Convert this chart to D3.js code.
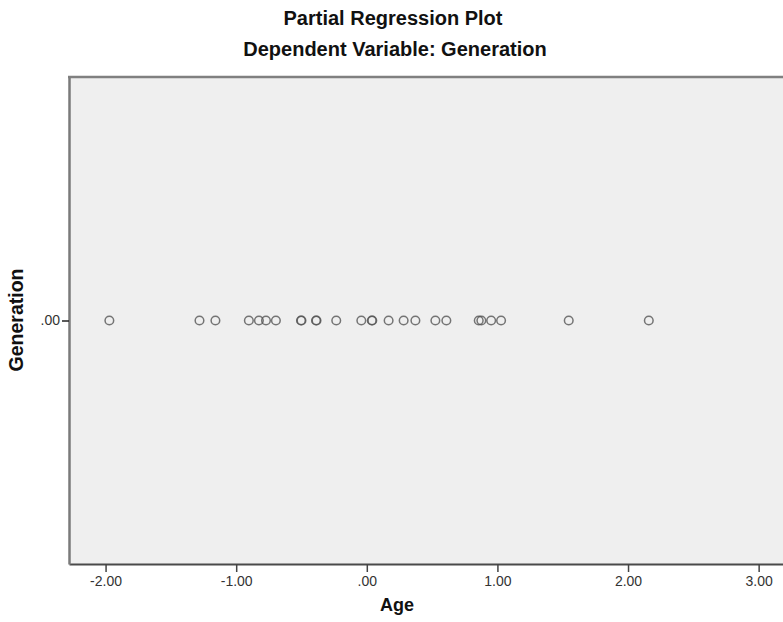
<!DOCTYPE html>
<html>
<head>
<meta charset="utf-8">
<script src="https://cdn.jsdelivr.net/npm/d3@7"></script>
<style>
  html, body { margin: 0; padding: 0; background: #fff; }
  svg { display: block; }
</style>
</head>
<body>
<svg id="chart" width="783" height="622"></svg>
<script>
const titleText = "Partial Regression Plot";
const subtitleText = "Dependent Variable: Generation";
const xLabel = "Age";
const yLabel = "Generation";
const xTicks = [-2, -1, 0, 1, 2, 3];
const yTicks = [0];
const ageValues = [-1.971, -1.281, -1.159, -0.903, -0.826, -0.772, -0.696, -0.504, -0.500,
  -0.389, -0.385, -0.234, -0.042, 0.038, 0.042, 0.167, 0.282, 0.372, 0.525, 0.609,
  0.857, 0.877, 0.952, 1.028, 1.546, 2.159];
const generationValues = ageValues.map(() => 0);

const svg = d3.select("#chart");
const mLeft = 69, mTop = 77, mBottom = 564, mRight = 790;

const x = d3.scaleLinear().domain([-2.28, 3.24]).range([mLeft, mRight]);
const y = d3.scaleLinear().domain([-1, 1]).range([mBottom, mTop]);

const fmt = v => {
  const s = d3.format(".2f")(Math.abs(v));
  return (v < 0 ? "-" : "") + s.replace(/^0\./, ".");
};

// plot background
svg.append("rect").attr("x", mLeft).attr("y", mTop)
  .attr("width", mRight - mLeft).attr("height", mBottom - mTop)
  .attr("fill", "#efefef");

// top border
svg.append("line").attr("x1", mLeft - 1).attr("x2", mRight).attr("y1", mTop).attr("y2", mTop)
  .attr("stroke", "#808080").attr("stroke-width", 2.5);

const tickFont = "'Liberation Sans Narrow', 'Liberation Sans', Arial, sans-serif";

// axes
const xAxis = d3.axisBottom(x).tickValues(xTicks).tickFormat(fmt).tickSize(8).tickSizeOuter(0).tickPadding(4);
const gx = svg.append("g").attr("transform", `translate(0,${mBottom})`).call(xAxis);
gx.select(".domain").attr("stroke", "#4a4a4a").attr("stroke-width", 2);
gx.selectAll(".tick line").attr("stroke", "#444").attr("stroke-width", 1.5);
gx.selectAll("text").attr("font-family", tickFont)
  .attr("font-size", 14).attr("fill", "#333");

const yAxis = d3.axisLeft(y).tickValues(yTicks).tickFormat(fmt).tickSize(7).tickSizeOuter(0).tickPadding(2);
const gy = svg.append("g").attr("transform", `translate(${mLeft},0)`).call(yAxis);
gy.select(".domain").attr("stroke", "#7a7a7a").attr("stroke-width", 2.5);
gy.selectAll(".tick line").attr("stroke", "#222").attr("stroke-width", 1.5);
gy.selectAll("text").attr("font-family", tickFont)
  .attr("font-size", 14).attr("fill", "#333");

// points
svg.append("g").selectAll("circle")
  .data(ageValues.map((a, i) => ({a, g: generationValues[i]})))
  .join("circle")
  .attr("cx", d => x(d.a)).attr("cy", d => y(d.g)).attr("r", 4.3)
  .attr("fill", "none").attr("stroke", "#555").attr("stroke-width", 1.5)
  .attr("stroke-opacity", 0.8);

// titles
const tf = "'Liberation Sans', Arial, sans-serif";
svg.append("text").attr("x", 393).attr("y", 25).attr("text-anchor", "middle")
  .attr("font-family", tf).attr("font-weight", "bold").attr("font-size", 20)
  .attr("fill", "#111").text(titleText);
svg.append("text").attr("x", 395).attr("y", 56).attr("text-anchor", "middle")
  .attr("font-family", tf).attr("font-weight", "bold").attr("font-size", 20)
  .attr("fill", "#111").text(subtitleText);
svg.append("text").attr("x", 397).attr("y", 611).attr("text-anchor", "middle")
  .attr("font-family", tf).attr("font-weight", "bold").attr("font-size", 18)
  .attr("fill", "#111").text(xLabel);
svg.append("text").attr("transform", "translate(23,320) rotate(-90)").attr("text-anchor", "middle")
  .attr("font-family", tf).attr("font-weight", "bold").attr("font-size", 19.5)
  .attr("fill", "#111").text(yLabel);
</script>
</body>
</html>
